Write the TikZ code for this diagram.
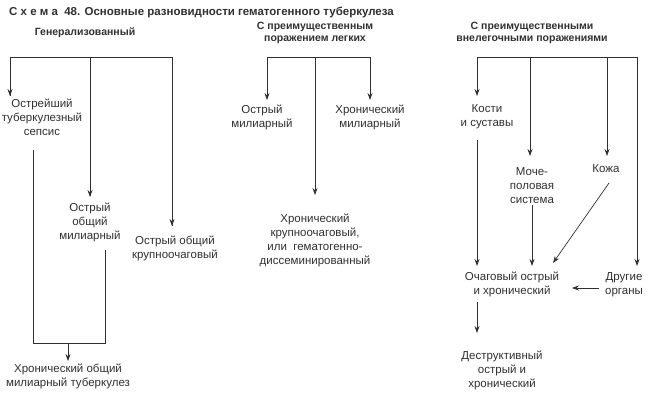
\documentclass[tikz,border=0pt]{standalone}
\usepackage{fontspec}
\setmainfont{Liberation Sans}
\usetikzlibrary{arrows.meta}
\definecolor{schemeink}{HTML}{303030}

\begin{document}
\begin{tikzpicture}[x=1pt,y=-1pt,
    form/.style={align=center,font=\fontsize{11.5}{14}\selectfont,text=schemeink,inner sep=1pt},
    group/.style={align=center,font=\fontsize{10.5}{12.5}\selectfont\bfseries,text=schemeink,inner sep=1pt},
    link/.style={draw=schemeink,line width=0.7pt},
    flow/.style={link,-{Stealth[length=7pt,width=5pt]}}]
    \useasboundingbox (0,0) rectangle (650,403);

    % Title
    \node[group,anchor=west,font=\fontsize{11.5}{12}\selectfont\bfseries] (title) at (8,12) {С х е м а\ \ 48. Основные разновидности гематогенного туберкулеза};

    % Groups
    \node[group] (gen) at (85,33) {Генерализованный};
    \node[group] (lung) at (315,33) {С преимущественным\\поражением легких};
    \node[group] (extra) at (532,33) {С преимущественными\\внелегочными поражениями};

    % Forms
    \node[form] (sepsis) at (42,117) {Острейший\\туберкулезный\\сепсис};
    \node[form] (genmil) at (90,222) {Острый\\общий\\милиарный};
    \node[form] (genbig) at (175,248) {Острый общий\\крупноочаговый};
    \node[form] (chrgen) at (68,376) {Хронический общий\\милиарный туберкулез};
    \node[form] (acmil) at (262,117) {Острый\\милиарный};
    \node[form] (chrmil) at (370,117) {Хронический\\милиарный};
    \node[form] (chrbig) at (315,240) {Хронический\\крупноочаговый,\\или\ \ гематогенно-\\диссеминированный};
    \node[form] (bones) at (487,117) {Кости\\и суставы};
    \node[form] (uro) at (532,186) {Моче-\\половая\\система};
    \node[form] (skin) at (606,169) {Кожа};
    \node[form] (other) at (624,285) {Другие\\органы};
    \node[form] (focal) at (512,284) {Очаговый острый\\и хронический};
    \node[form] (destr) at (502,370) {Деструктивный\\острый и\\хронический};

    % Branches
    \draw[link] (10,96) |- (172,57) -- (172,226);
    \draw[link] (90,57) -- (90,196);
    \draw[flow] (10,57) -- (10,96);
    \draw[flow] (172,200) -- (172,226);
    \draw[flow] (90,170) -- (90,197);

    \draw[link] (267,57) -- (370,57);
    \foreach \x/\y in {267/100,315/195,370/100}
        \draw[flow] (\x,57) -- (\x,\y);

    \draw[link] (477,57) -- (637,57);
    \foreach \x/\y in {477/96,530/156,607/156,637/266}
        \draw[flow] (\x,57) -- (\x,\y);

    % Chronic generalized
    \coordinate (join) at (68,343);
    \draw[link] (33,150) |- (105,343) -- (105,250);
    \draw[flow] (join) -- (68,361);

    % Extrapulmonary
    \draw[flow] (477,140) -- (477,266);
    \draw[flow] (uro) -- (532,266);
    \draw[flow] (609,183) -- (553,263);
    \draw[flow] (599,288) -- (572,288);
    \draw[flow] (477,302) -- (477,333);
\end{tikzpicture}
\end{document}
